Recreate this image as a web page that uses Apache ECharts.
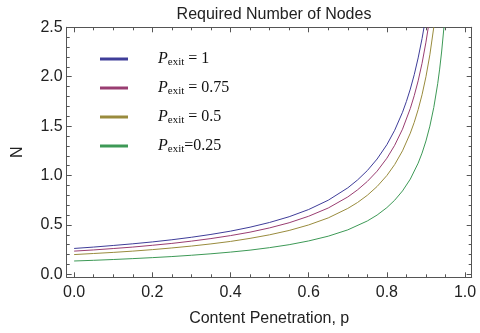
<!DOCTYPE html>
<html lang="en">
<head>
  <meta charset="UTF-8">
  <script src="https://cdn.jsdelivr.net/npm/echarts@6/dist/echarts.min.js"></script>
  <style>
    html, body { margin: 0; padding: 0; background: #fff; }
  </style>
</head>
<body>
  <div id="nodesChart" style="width: 480px;height:333px;"></div>

  <script type="text/javascript">

    // values: [p, N]
    var pexit1 = [[0, 0.262], [0.05, 0.276], [0.1, 0.292], [0.15, 0.309], [0.2, 0.328], [0.25, 0.35],
      [0.3, 0.375], [0.35, 0.404], [0.4, 0.437], [0.45, 0.477], [0.5, 0.525], [0.55, 0.583],
      [0.6, 0.656], [0.65, 0.75], [0.7, 0.875], [0.725, 0.955], [0.75, 1.05], [0.775, 1.167],
      [0.8, 1.312], [0.82, 1.458], [0.84, 1.64], [0.85, 1.75], [0.86, 1.875], [0.87, 2.02],
      [0.88, 2.19], [0.89, 2.386], [0.895, 2.5]];
    var pexit075 = [[0, 0.235], [0.05, 0.247], [0.1, 0.261], [0.15, 0.276], [0.2, 0.294], [0.25, 0.313],
      [0.3, 0.336], [0.35, 0.362], [0.4, 0.392], [0.45, 0.427], [0.5, 0.47], [0.55, 0.522],
      [0.6, 0.588], [0.65, 0.671], [0.7, 0.783], [0.725, 0.855], [0.75, 0.94], [0.775, 1.044],
      [0.8, 1.175], [0.82, 1.306], [0.84, 1.469], [0.86, 1.679], [0.87, 1.808], [0.88, 1.958],
      [0.89, 2.136], [0.9, 2.35], [0.906, 2.5]];
    var pexit05 = [[0, 0.2], [0.05, 0.211], [0.1, 0.222], [0.15, 0.235], [0.2, 0.25], [0.25, 0.267],
      [0.3, 0.286], [0.35, 0.308], [0.4, 0.333], [0.45, 0.364], [0.5, 0.4], [0.55, 0.444],
      [0.6, 0.5], [0.65, 0.571], [0.7, 0.667], [0.725, 0.727], [0.75, 0.8], [0.775, 0.889],
      [0.8, 1.0], [0.82, 1.111], [0.84, 1.25], [0.86, 1.429], [0.87, 1.538], [0.88, 1.667],
      [0.89, 1.818], [0.9, 2.0], [0.91, 2.222], [0.92, 2.5]];
    var pexit025 = [[0, 0.135], [0.05, 0.142], [0.1, 0.15], [0.15, 0.159], [0.2, 0.169], [0.25, 0.18],
      [0.3, 0.193], [0.35, 0.208], [0.4, 0.225], [0.45, 0.245], [0.5, 0.27], [0.55, 0.3],
      [0.6, 0.338], [0.65, 0.386], [0.7, 0.45], [0.75, 0.54], [0.775, 0.6], [0.8, 0.675],
      [0.82, 0.75], [0.84, 0.844], [0.86, 0.964], [0.88, 1.125], [0.89, 1.227], [0.9, 1.35],
      [0.91, 1.5], [0.92, 1.688], [0.93, 1.929], [0.935, 2.077], [0.94, 2.25], [0.946, 2.5]];

    var seriesNames = ['P_exit = 1', 'P_exit = 0.75', 'P_exit = 0.5', 'P_exit=0.25'];
    var legendValues = [' = 1', ' = 0.75', ' = 0.5', '=0.25'];
    var colors = ['#3f3d99', '#993d71', '#998b3d', '#3d9956'];

    var xMajor = [0, 0.2, 0.4, 0.6, 0.8, 1.0];
    var xMinor = [0.05, 0.1, 0.15, 0.25, 0.3, 0.35, 0.45, 0.5, 0.55, 0.65, 0.7, 0.75, 0.85, 0.9, 0.95];
    var yMajor = [0, 0.5, 1.0, 1.5, 2.0, 2.5];
    var yMinor = [0.1, 0.2, 0.3, 0.4, 0.6, 0.7, 0.8, 0.9, 1.1, 1.2, 1.3, 1.4, 1.6, 1.7, 1.8, 1.9, 2.1, 2.2, 2.3, 2.4];

    var xMin = -0.019, xMax = 1.017, yMin = -0.03, yMax = 2.5;
    var frameColor = '#555';
    var labelStyle = { fontFamily: 'Liberation Sans', fontSize: 16, color: '#222' };

    function makeAxis(kind, position, ticks, tickLen, withLabels, withLine) {
        return {
            type: 'value',
            position: position,
            min: kind === 'x' ? xMin : yMin,
            max: kind === 'x' ? xMax : yMax,
            splitLine: { show: false },
            axisLine: { show: withLine, onZero: false, lineStyle: { color: frameColor, width: 1 } },
            axisTick: {
                show: true, inside: true, length: tickLen, customValues: ticks,
                lineStyle: { color: frameColor, width: 1 }
            },
            axisLabel: withLabels ? Object.assign({
                show: true, margin: kind === 'x' ? 7 : 4, customValues: ticks,
                formatter: function (v) { return v.toFixed(1); }
            }, labelStyle) : { show: false }
        };
    }

    function createChart() {
        const chart = echarts.init(document.getElementById('nodesChart'));
        const datasets = [pexit1, pexit075, pexit05, pexit025];

        const xAxes = [
            makeAxis('x', 'bottom', xMajor, 5, true, true),
            makeAxis('x', 'bottom', xMinor, 3, false, false),
            makeAxis('x', 'top', xMajor, 5, false, true),
            makeAxis('x', 'top', xMinor, 3, false, false)
        ];
        xAxes[0].name = 'Content Penetration, p';
        xAxes[0].nameLocation = 'middle';
        xAxes[0].nameGap = 33;
        xAxes[0].nameTextStyle = labelStyle;

        const yAxes = [
            makeAxis('y', 'left', yMajor, 5, true, true),
            makeAxis('y', 'left', yMinor, 3, false, false),
            makeAxis('y', 'right', yMajor, 5, false, true),
            makeAxis('y', 'right', yMinor, 3, false, false)
        ];
        yAxes[0].name = 'N';
        yAxes[0].nameLocation = 'middle';
        yAxes[0].nameGap = 41;
        yAxes[0].nameTextStyle = labelStyle;

        const option = {
            animation: false,
            color: colors,
            title: {
                text: 'Required Number of Nodes',
                left: 269,
                top: 2,
                textAlign: 'center',
                textStyle: { fontFamily: 'Liberation Sans', fontSize: 16, fontWeight: 'normal', color: '#222' }
            },
            grid: { left: 66.7, right: 8.3, top: 27.3, bottom: 55.7 },
            legend: {
                orient: 'vertical',
                left: 95,
                top: 45,
                itemWidth: 28,
                itemHeight: 3,
                itemGap: 11,
                icon: 'rect',
                data: seriesNames,
                formatter: function (name) {
                    return '{p|P}{s|exit}{v|' + legendValues[seriesNames.indexOf(name)] + '}';
                },
                textStyle: {
                    padding: [0, 0, 0, 25],
                    rich: {
                        p: { fontFamily: 'Liberation Serif', fontStyle: 'italic', fontSize: 16, lineHeight: 20, color: '#111' },
                        s: { fontFamily: 'Liberation Serif', fontSize: 11, lineHeight: 20, color: '#111', padding: [7, 0, 0, 0] },
                        v: { fontFamily: 'Liberation Serif', fontSize: 16, lineHeight: 20, color: '#111' }
                    }
                }
            },
            xAxis: xAxes,
            yAxis: yAxes,
            series: datasets.map(function (d, i) {
                return {
                    name: seriesNames[i],
                    type: 'line',
                    data: d,
                    xAxisIndex: 0,
                    yAxisIndex: 0,
                    smooth: false,
                    showSymbol: false,
                    clip: true,
                    lineStyle: { width: 1, color: colors[i] },
                    itemStyle: { color: colors[i] }
                };
            })
        };

        chart.setOption(option);
    }
    createChart();
  </script>
</body>
</html>
